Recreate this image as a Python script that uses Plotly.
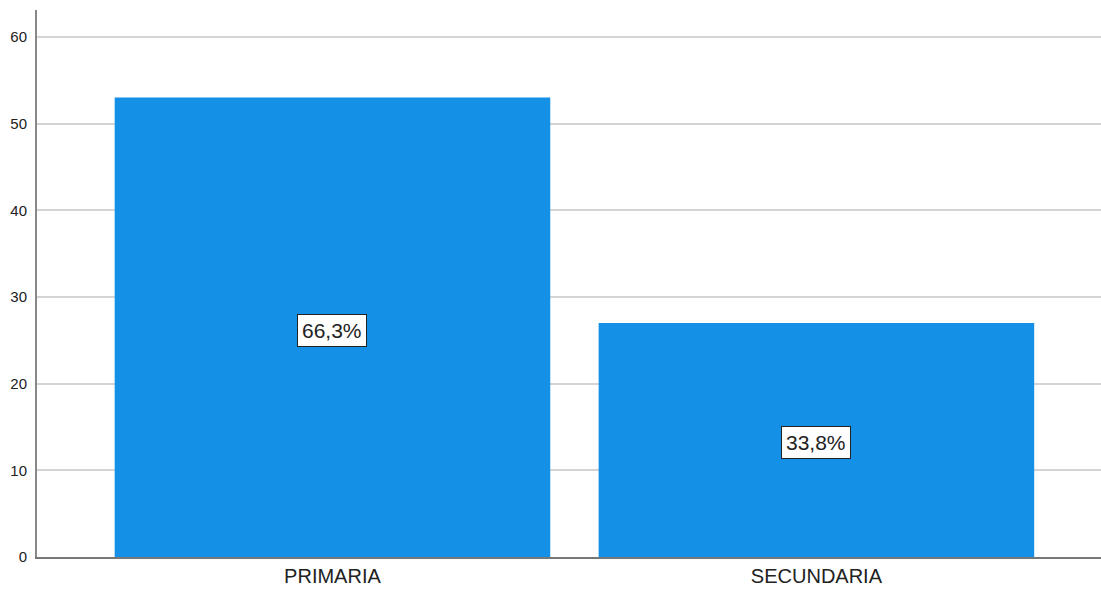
import plotly.graph_objects as go

categories = ["PRIMARIA", "SECUNDARIA"]
counts = [53, 27]
percent_labels = ["66,3%", "33,8%"]
y_ticks = [0, 10, 20, 30, 40, 50, 60]

fig = go.Figure()
fig.add_trace(go.Bar(
    x=categories, y=counts, width=0.9,
    marker=dict(color="#1490E6", line=dict(width=0)),
    hoverinfo="skip",
))
for c, v, t in zip(categories, counts, percent_labels):
    fig.add_annotation(
        x=c, y=v / 2, text=t, showarrow=False, xref="x", yref="y",
        font=dict(family="Liberation Sans, Arial, sans-serif", size=21, color="#222222"),
        bgcolor="white", bordercolor="#222222", borderwidth=1, borderpad=4,
        yshift=-3,
    )

fig.update_layout(
    width=1101, height=590,
    margin=dict(l=37, r=0, t=10, b=33),
    paper_bgcolor="white", plot_bgcolor="white",
    showlegend=False,
    font=dict(family="Liberation Sans, Arial, sans-serif", color="#333333"),
)
fig.update_xaxes(
    type="category", range=[-0.6105, 1.588],
    showline=True, linecolor="#777777", linewidth=2,
    showgrid=False, ticks="", tickfont=dict(size=20, color="#222222"),
)
fig.update_yaxes(
    range=[0, 63.1], tickvals=y_ticks,
    showline=True, linecolor="#888888", linewidth=2,
    showgrid=True, gridcolor="#D4D4D4", gridwidth=2,
    zeroline=False, ticks="", tickfont=dict(size=15, color="#222222"),
    ticklabelstandoff=5,
)
fig.write_html(
    "out.html",
    config={"displayModeBar": False},
    post_script="document.body.style.margin='0';document.body.style.overflow='hidden';",
)
